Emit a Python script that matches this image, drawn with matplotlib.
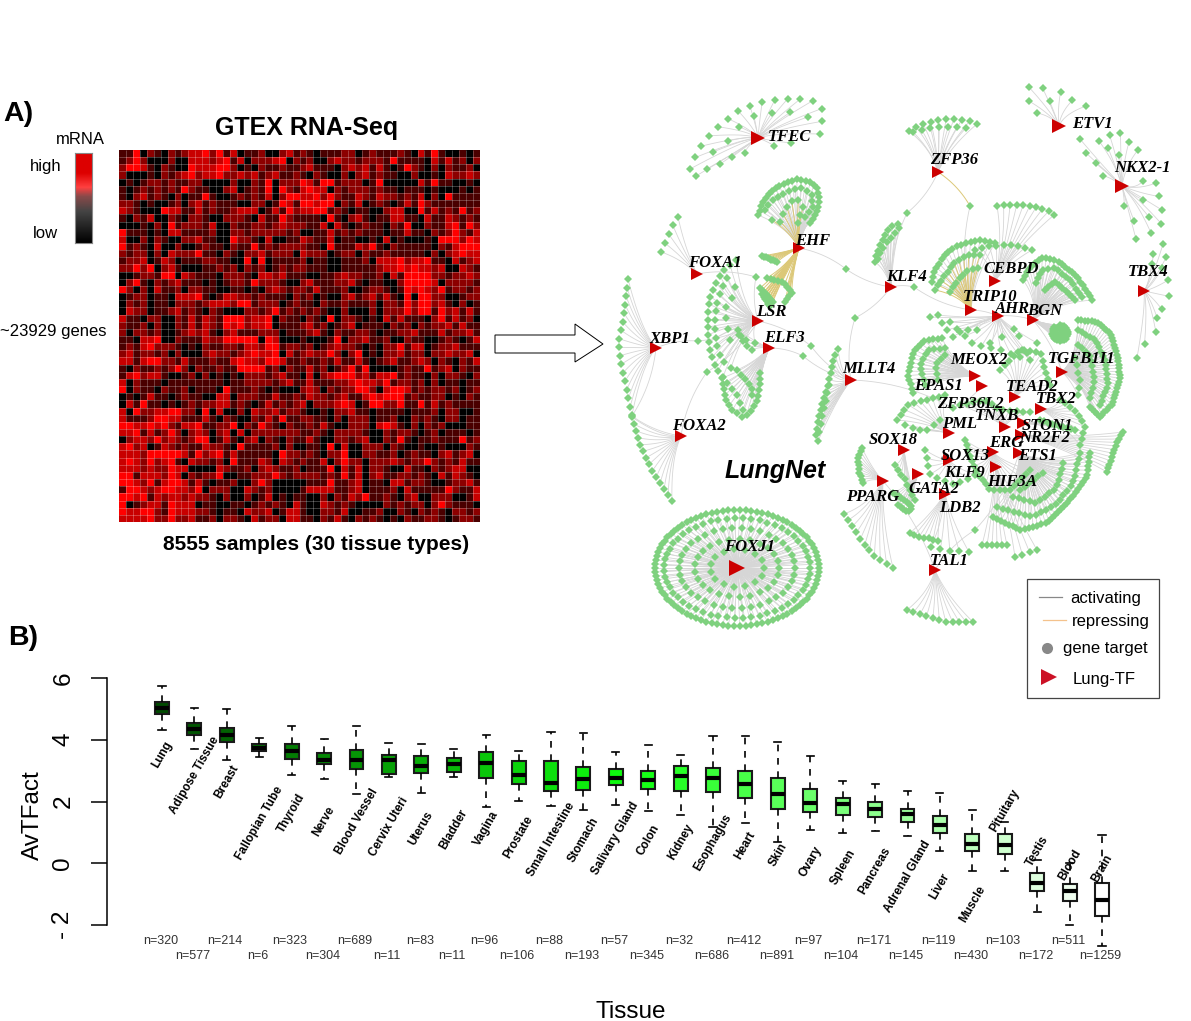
import matplotlib
matplotlib.use("Agg")
import matplotlib.pyplot as plt
import matplotlib.transforms as mtransforms
from matplotlib.collections import LineCollection
from matplotlib.colors import LinearSegmentedColormap, ListedColormap
from matplotlib.patches import Polygon, Rectangle
import numpy as np

plt.rcParams["font.family"] = ["Liberation Sans", "DejaVu Sans"]

W, H = 1191, 1021

# heatmap levels (0 black .. 4 bright red), one list per quadrant
heat_q1 = """1140210212 3342413011 200231
1242000200 3332341302 223402
2443102100 4333442010 211211
2000102123 4233422323 123112
0101221211 2200002002 140222
1012121214 2110023012 140421
1023121020 1141001212 130244
2210100120 2312111002 201431
3210004331 1312112333 013142
1021300210 2210022210 311421
0001020412 2213002112 212322
4111010331 1112002212 222212
3002021002 2311004221 030011
4121030020 0121102114 121222
2122020322 2411021022 312220
1223013201 1122110040 401111
2242402310 0011212021 201212
0012214403 2111022210 332311
0241021231 1101012214 222100
4202031120 2211001101 023212
0122011033 3410133221 211102
0212011022 2123332441 222012
0322011231 2102100022 124121
3110220021 3132144423 340211
2112020021 3132143423 340111
2022120012 3231023111 222011"""
heat_q2 = """2101112201 2111210314 100101
1200232212 2214111103 131202
2311102323 1310142102 021120
1021002023 1211002001 032232
4314412220 1400000314 110010
3433021222 1211011101 000101
3342421132 1322121302 041111
4434402130 1210131421 111111
3344121011 0023300413 121412
1110410231 0113311031 132121
2113031012 1102140021 134142
0011312121 1101131102 124213
3211301100 1030100010 444243
2110411132 4102111110 213444
3222012202 1121111102 023433
2011001112 0333423341 103123
2111001111 1233434332 300321
1001123221 1203144442 212232
2311122310 1100244443 022221
2131112001 2210143432 412212
1201002312 3131040442 200122
1102112111 2022142442 310201
2121002000 2022242441 423131
0210402210 1031311102 413120
2312012301 1102120212 231311
1231021122 1011223111 312231"""
heat_q3 = """1103340021 1132244444 043000
1213422210 1021122133 244122
2312212020 0023221234 334031
3313442213 1112113433 244311
1021121242 0211211444 412021
1342331001 2020101022 212311
3021110111 1111101122 221231
4021102112 0111041112 101000
0101311012 1100330222 113112
0314110101 2122331210 131212
3042233442 2040300203 223122
3111244331 1131021002 131411
4433434213 3411224021 421021
3341312420 2320230302 222222
0233242321 2440131023 021021
3423013212 1132210411 112020
3332444443 1423413111 110422
3432423410 3221204111 320321
3332322433 0000321120 232112
4413332430 2122400112 224212
4432413443 1310112002 420000
1443234433 2402220032 120000
4434132332 3221020020 130101
4012331433 3011001101 212103
4334421433 3221011032 230133
3333422422 3112022103 122033"""
heat_q4 = """1000140223 1120021100 121013
1201232210 1022413301 223111
2322420240 1022312202 232230
2112131131 0123112320 210213
1312012414 0000121141 230211
0302344423 1334121102 022102
1311122343 3241221202 011011
2320212244 2034431212 212012
1322123113 4344412112 201021
3022234301 4422411413 121111
1001022311 0111101112 022001
2211020222 0112002121 022011
1213100222 0343102021 200011
1121022221 0021221012 011101
1310022123 0021410112 111412
0110403002 2202100100 100021
1210224002 2112012110 231230
2113024220 2223212242 121311
0111403130 2210031102 123300
2221214130 2311221210 313210
0111411230 1103312210 012231
1333311230 1112031111 142113
1002021324 1121023002 220013
1003212100 0021212202 421110
1002213001 1200210212 102212
1102131021 2101021122 101221"""

# boxplot
tissues = ["Lung", "Adipose Tissue", "Breast", "Fallopian Tube", "Thyroid", "Nerve",
           "Blood Vessel", "Cervix Uteri", "Uterus", "Bladder", "Vagina", "Prostate",
           "Small Intestine", "Stomach", "Salivary Gland", "Colon", "Kidney", "Esophagus",
           "Heart", "Skin", "Ovary", "Spleen", "Pancreas", "Adrenal Gland", "Liver",
           "Muscle", "Pituitary", "Testis", "Blood", "Brain"]
n_samples = [320, 577, 214, 6, 323, 304, 689, 11, 83, 11, 96, 106, 88, 193, 57, 345, 32,
             686, 412, 891, 97, 104, 171, 145, 119, 430, 103, 172, 511, 1259]
whisker_hi = [5.75, 5.03, 4.99, 4.05, 4.43, 4.02, 4.43, 3.91, 3.87, 3.69, 4.17, 3.65, 4.25, 4.22,
              3.60, 3.84, 3.49, 4.11, 4.12, 3.92, 3.48, 2.66, 2.58, 2.33, 2.29, 1.74, 1.35, 0.10, 0.00, 0.91]
q3 = [5.22, 4.53, 4.39, 3.86, 3.85, 3.57, 3.67, 3.50, 3.46, 3.41, 3.60, 3.30, 3.30, 3.12,
      3.06, 3.00, 3.14, 3.07, 2.99, 2.76, 2.40, 2.12, 2.00, 1.75, 1.52, 0.94, 0.95, -0.33, -0.67, -0.63]
medians = [5.02, 4.35, 4.17, 3.74, 3.63, 3.36, 3.33, 3.33, 3.15, 3.22, 3.24, 2.85, 2.59, 2.73,
           2.75, 2.70, 2.81, 2.75, 2.56, 2.25, 1.94, 1.91, 1.76, 1.58, 1.25, 0.62, 0.59, -0.63, -0.89, -1.19]
q1 = [4.84, 4.17, 3.92, 3.63, 3.38, 3.21, 3.05, 2.89, 2.93, 2.95, 2.77, 2.57, 2.34, 2.36,
      2.52, 2.40, 2.34, 2.30, 2.11, 1.76, 1.65, 1.57, 1.51, 1.33, 0.97, 0.39, 0.30, -0.91, -1.21, -1.70]
whisker_lo = [4.30, 3.69, 3.35, 3.43, 2.86, 2.73, 2.25, 2.80, 2.26, 2.79, 1.82, 2.01, 1.86, 1.72,
              1.88, 1.68, 1.55, 1.18, 1.29, 0.69, 1.07, 0.99, 1.04, 0.88, 0.41, -0.26, -0.24, -1.59, -2.00, -2.67]
tissue_label_y = [755, 775, 782, 823, 813, 821, 822, 827, 828, 829, 828, 837, 839, 840, 838,
                  840, 842, 842, 846, 855, 862, 867, 871, 877, 886, 904, 811, 851, 865, 868]

# network layout, in picture pixels
hub_names = ["TFEC", "ETV1", "NKX2-1", "ZFP36", "TBX4", "EHF", "FOXA1", "KLF4", "CEBPD", "TRIP10",
             "AHR", "BGN", "LSR", "XBP1", "ELF3", "MLLT4", "MEOX2", "TGFB1I1", "EPAS1", "TEAD2",
             "TBX2", "TNXB", "STON1", "NR2F2", "ERG", "ETS1", "HIF3A", "PML", "SOX13", "SOX18",
             "GATA2", "PPARG", "LDB2", "TAL1", "FOXA2", "FOXJ1"]
hub_x = [758, 1059, 1122, 938, 1144, 799, 697, 891, 995, 971,
         998, 1033, 758, 656, 769, 851, 975, 1062, 982, 1015,
         1041, 1005, 1023, 1021, 993, 1019, 996, 949, 949, 904,
         918, 883, 945, 935, 681, 737]
hub_y = [138, 126, 186, 172, 291, 248, 274, 287, 281, 310,
         316, 320, 321, 348, 348, 380, 376, 372, 386, 397,
         409, 427, 423, 435, 452, 453, 467, 433, 460, 450,
         474, 481, 494, 570, 436, 568]
big_hubs = ["TFEC", "ETV1", "NKX2-1"]

net_labels = ["TFEC", "ETV1", "NKX2-1", "ZFP36", "TBX4", "EHF", "FOXA1", "KLF4", "CEBPD", "TRIP10",
              "AHR", "BGN", "LSR", "XBP1", "ELF3", "MLLT4", "MEOX2", "TGFB1I1", "EPAS1", "TEAD2",
              "TBX2", "ZFP36L2", "TNXB", "STON1", "NR2F2", "ERG", "ETS1", "HIF3A", "PML", "SOX13",
              "KLF9", "SOX18", "GATA2", "PPARG", "LDB2", "TAL1", "FOXA2", "FOXJ1", ]
label_x = [790, 1092, 1142, 954, 1148, 813, 715, 906, 1011, 990,
           1012, 1045, 771, 670, 785, 869, 979, 1082, 938, 1032,
           1056, 970, 997, 1047, 1045, 1006, 1038, 1012, 960, 965,
           964, 893, 934, 873, 960, 949, 699, 750]
label_y = [136, 123, 167, 159, 271, 240, 262, 276, 268, 296,
           308, 310, 311, 338, 337, 368, 359, 358, 385, 386,
           398, 403, 415, 425, 437, 442, 455, 481, 423, 455,
           472, 439, 488, 496, 507, 560, 425, 546]

# targets of each hub lie along these traced lines
fan_hubs = ["TFEC", "TFEC", "TFEC", "TFEC",
            "ETV1", "NKX2-1", "NKX2-1", "NKX2-1", "NKX2-1", "NKX2-1", "NKX2-1",
            "TBX4", "ZFP36", "ZFP36",
            "KLF4", "KLF4",
            "CEBPD", "CEBPD",
            "TRIP10", "TRIP10", "TRIP10",
            "BGN", "BGN", "BGN", "BGN",
            "TGFB1I1", "TGFB1I1", "TGFB1I1", "TGFB1I1",
            "MEOX2", "MEOX2", "MEOX2",
            "AHR", "AHR", "AHR",
            "NR2F2", "ETS1", "ETS1", "ETS1", "ETS1",
            "HIF3A", "HIF3A",
            "FOXA1", "XBP1", "FOXA2",
            "EHF", "EHF", "EHF", "EHF", "EHF", "EHF",
            "LSR", "LSR", "LSR",
            "ELF3", "ELF3", "ELF3", "ELF3",
            "MLLT4", "MLLT4",
            "PPARG", "PPARG", "GATA2",
            "LDB2", "LDB2", "TAL1",
            "PML", "PML", "SOX18", "TEAD2", "TBX2", "ERG", "TNXB", "STON1", "SOX13"]
fan_counts = [16, 5, 7, 2,
              8, 4, 5, 2, 6, 2, 3,
              12, 10, 7,
              9, 7,
              10, 9,
              18, 12, 8,
              24, 14, 10, 30,
              42, 20, 12, 6,
              18, 11, 6,
              8, 7, 10,
              12, 34, 22, 14, 6,
              6, 4,
              5, 17, 14,
              26, 14, 9, 9, 12, 18,
              18, 12, 9,
              18, 5, 6, 5,
              16, 7,
              11, 11, 14,
              7, 5, 11,
              10, 6, 8, 14, 10, 20, 12, 10, 10]
fan_repress = [0, 0, 0, 0,
               0, 0, 0, 0, 0, 0, 0,
               0, 0, 0,
               0, 0,
               0, 0,
               0, 1, 1,
               0, 0, 0, 0,
               0, 0, 0, 0,
               0, 0, 0,
               0, 0, 0,
               0, 0, 0, 0, 0,
               0, 0,
               0, 0, 0,
               0, 0, 1, 1, 1, 1,
               0, 0, 0,
               0, 0, 0, 0,
               0, 0,
               0, 0, 0,
               0, 0, 0,
               0, 0, 0, 0, 0, 0, 0, 0, 0]
fan_paths = [
    [(690, 169), (699, 150), (706, 139), (722, 123), (743, 108), (757, 103), (781, 99), (807, 99), (818, 102), (822, 109), (822, 122), (820, 134)],
    [(696, 176), (706, 169), (717, 166), (730, 158), (745, 153)],
    [(713, 152), (727, 142), (737, 129), (753, 116), (771, 113), (789, 112), (808, 117)],
    [(791, 143), (774, 146)],
    [(1037, 113), (1028, 100), (1028, 87), (1042, 87), (1050, 102), (1061, 92), (1073, 101), (1086, 106)],
    [(1080, 139), (1085, 152), (1095, 162), (1103, 176)],
    [(1099, 141), (1110, 135), (1119, 132), (1129, 142), (1138, 150)],
    [(1108, 148), (1119, 155)],
    [(1143, 181), (1156, 182), (1159, 196), (1162, 208), (1162, 223), (1151, 233)],
    [(1143, 200), (1149, 217)],
    [(1124, 206), (1134, 220), (1136, 239)],
    [(1163, 244), (1152, 254), (1168, 256), (1149, 265), (1168, 270), (1169, 295), (1166, 308), (1153, 312), (1160, 322), (1155, 335), (1143, 345), (1137, 358)],
    [(909, 131), (917, 126), (925, 123), (933, 121), (948, 119), (957, 119), (964, 120), (973, 122), (977, 124)],
    [(913, 132), (930, 128), (939, 127), (948, 127), (957, 127), (966, 128)],
    [(875, 262), (877, 252), (881, 243), (886, 233), (891, 226), (898, 224)],
    [(878, 259), (882, 249), (888, 241), (893, 235), (899, 228)],
    [(997, 206), (1010, 205), (1022, 205), (1035, 207), (1048, 211), (1054, 215)],
    [(975, 250), (990, 246), (1005, 245), (1020, 246), (1032, 250)],
    [(932, 282), (935, 270), (943, 257), (953, 248), (967, 242), (983, 240), (995, 243)],
    [(935, 290), (945, 275), (955, 262), (968, 255), (980, 255)],
    [(950, 292), (958, 280), (968, 270), (978, 268)],
    [(1023, 280), (1030, 267), (1043, 257), (1060, 262), (1077, 277), (1088, 293), (1092, 300)],
    [(1036, 283), (1042, 270), (1055, 268), (1070, 280), (1082, 297)],
    [(1045, 290), (1055, 282), (1065, 290), (1075, 300)],
    [(1060, 325), (1066, 327), (1068, 333), (1066, 339), (1060, 341), (1054, 339), (1052, 333), (1054, 327), (1060, 329), (1064, 333), (1060, 337), (1056, 333)],
    [(1078, 320), (1097, 322), (1110, 333), (1118, 357), (1120, 380), (1113, 403), (1100, 417), (1090, 407)],
    [(1078, 330), (1095, 340), (1105, 360), (1108, 385), (1100, 405)],
    [(1078, 345), (1090, 355), (1095, 380), (1090, 398)],
    [(1075, 358), (1080, 380), (1078, 395)],
    [(913, 393), (908, 375), (913, 352), (925, 340), (942, 338)],
    [(925, 385), (920, 365), (928, 350), (945, 348)],
    [(938, 380), (935, 365), (945, 355)],
    [(930, 317), (937, 314), (947, 330), (953, 337), (963, 330), (977, 330)],
    [(990, 343), (1003, 337), (1017, 327), (1023, 357), (1037, 343)],
    [(950, 322), (975, 345), (1000, 350), (1030, 360)],
    [(1123, 432), (1115, 447), (1107, 472)],
    [(1090, 453), (1087, 477), (1070, 500), (1047, 523), (1020, 530), (993, 517)],
    [(1080, 453), (1073, 483), (1057, 503), (1033, 517), (997, 507)],
    [(1063, 463), (1057, 487), (1037, 503), (1013, 497)],
    [(1043, 473), (1030, 483), (1020, 490)],
    [(982, 545), (1007, 545)],
    [(1015, 557), (1037, 550)],
    [(678, 217), (673, 225), (669, 233), (665, 242), (661, 252)],
    [(628, 279), (624, 314), (619, 340), (619, 350), (622, 368), (627, 391), (632, 415)],
    [(632, 417), (641, 448), (652, 470), (672, 501)],
    [(758, 215), (762, 204), (768, 195), (777, 187), (787, 182), (798, 179), (810, 182), (818, 189), (819, 202), (817, 213), (810, 223)],
    [(765, 210), (770, 202), (780, 195), (792, 190), (803, 188), (812, 195), (813, 207), (805, 217)],
    [(772, 220), (780, 222), (788, 203), (797, 198), (803, 207), (798, 223)],
    [(762, 256), (777, 262)],
    [(767, 278), (783, 282), (792, 292), (785, 302)],
    [(760, 288), (773, 302), (762, 294), (770, 306)],
    [(736, 260), (722, 272), (715, 285), (710, 298), (708, 313), (708, 330), (709, 345), (712, 357), (716, 369), (723, 377)],
    [(727, 278), (720, 292), (716, 308), (715, 330), (717, 347), (722, 360), (731, 368)],
    [(735, 287), (732, 297), (725, 308), (727, 323), (730, 340), (742, 333), (747, 343), (755, 343)],
    [(722, 378), (725, 398), (732, 410), (742, 417), (750, 413), (758, 400), (760, 383), (760, 373)],
    [(727, 383), (737, 395), (743, 410)],
    [(737, 370), (743, 377), (752, 387), (752, 395)],
    [(738, 330), (745, 345), (752, 350)],
    [(838, 349), (834, 358), (831, 372), (827, 388), (823, 400), (821, 408), (818, 420), (816, 433), (818, 441)],
    [(829, 385), (825, 403), (822, 418), (819, 432)],
    [(844, 514), (853, 527), (862, 541), (873, 555), (883, 562), (893, 568)],
    [(862, 448), (858, 458), (859, 472), (863, 483)],
    [(893, 493), (905, 500), (912, 507), (908, 512), (898, 505)],
    [(910, 533), (917, 537), (927, 538), (938, 541)],
    [(931, 547), (943, 550), (969, 552)],
    [(907, 610), (925, 616), (946, 622), (962, 622), (973, 622)],
    [(897, 420), (908, 405), (925, 400), (945, 395)],
    [(905, 425), (925, 432), (940, 420)],
    [(895, 465), (905, 480), (915, 500)],
    [(1000, 370), (1020, 350), (1040, 352), (1050, 385)],
    [(1060, 400), (1075, 410), (1085, 425), (1080, 445)],
    [(965, 440), (975, 470), (990, 490), (1010, 490), (1030, 470)],
    [(960, 405), (985, 400), (1000, 410), (1030, 412)],
    [(1040, 420), (1055, 425), (1075, 430)],
    [(925, 450), (930, 475), (955, 485), (975, 475)],
]

# targets shared by two hubs: node position, then the two hubs
shared_x = [907, 970, 846, 855, 811, 803, 756, 698, 707, 914, 632, 953, 975]
shared_y = [213, 206, 269, 318, 346, 356, 277, 341, 372, 287, 416, 408, 530]
shared_a = ["ZFP36", "ZFP36", "EHF", "KLF4", "LSR", "ELF3", "FOXA1", "XBP1", "FOXA2", "KLF4", "XBP1", "MLLT4", "TAL1"]
shared_b = ["KLF4", "TRIP10", "KLF4", "MLLT4", "MLLT4", "MLLT4", "LSR", "LSR", "LSR", "TRIP10", "FOXA2", "EPAS1", "ETS1"]
shared_repress = [0, 1, 0, 0, 0, 0, 0, 0, 0, 0, 0, 0, 0]
hub_links_a = ["TRIP10", "AHR", "BGN", "PPARG"]
hub_links_b = ["AHR", "BGN", "TGFB1I1", "TAL1"]

# FOXJ1 targets sit on concentric ellipses: half width, half height, node count
ring_a = [82, 73, 58, 42, 27]
ring_b = [58, 50, 40, 29, 19]
ring_n = [90, 55, 38, 25, 15]

EDGE_GREY = "#d6d6d6"
EDGE_YELLOW = "#dcc878"
NODE_GREEN = "#7fd17f"
HUB_RED = "#cc0000"


def px_axes(fig, left, top, right, bottom):
    return fig.add_axes([left / W, 1 - bottom / H, (right - left) / W, (bottom - top) / H])


def parse_rows(text):
    return [[int(c) for c in row.replace(" ", "")] for row in text.splitlines()]


def along_path(path, count):
    pts = np.array(path, dtype=float)
    seg = np.sqrt((np.diff(pts, axis=0) ** 2).sum(axis=1))
    dist = np.concatenate([[0], np.cumsum(seg)])
    where = np.linspace(0, dist[-1], count)
    return np.interp(where, dist, pts[:, 0]), np.interp(where, dist, pts[:, 1])


def curve(p0, ctrl, p1):
    t = np.linspace(0, 1, 14)[:, None]
    return (1 - t) ** 2 * np.array(p0) + 2 * t * (1 - t) * np.array(ctrl) + t ** 2 * np.array(p1)


def draw_heatmap(fig):
    ax = px_axes(fig, 119, 150, 480, 522)
    top = np.hstack([parse_rows(heat_q1), parse_rows(heat_q2)])
    bottom = np.hstack([parse_rows(heat_q3), parse_rows(heat_q4)])
    levels = np.vstack([top, bottom])
    cmap = ListedColormap(["#000000", "#4a0000", "#8c0000", "#c80000", "#ff0000"])
    ax.pcolormesh(levels, cmap=cmap, vmin=-0.5, vmax=4.5, antialiased=False)
    rows, cols = levels.shape
    # faint cell borders
    ax.hlines(np.arange(1, rows), 0, cols, colors="white", alpha=0.25, lw=0.7)
    ax.vlines(np.arange(1, cols), 0, rows, colors="white", alpha=0.25, lw=0.7)
    ax.set_xlim(0, cols)
    ax.set_ylim(rows, 0)
    ax.axis("off")

    # colour key
    key = px_axes(fig, 75, 153, 92, 243)
    ramp = LinearSegmentedColormap.from_list(
        "key", [(0, "#000000"), (0.35, "#444444"), (0.52, "#8a4a4a"), (0.62, "#ff4040"),
                (0.78, "#dd0000"), (1, "#dd0000")])
    key.imshow(np.linspace(1, 0, 200)[:, None], cmap=ramp, aspect="auto")
    key.set_xticks([])
    key.set_yticks([])
    for spine in key.spines.values():
        spine.set_color("#888888")


def draw_network(ov):
    hubs = {name: (x, y) for name, x, y in zip(hub_names, hub_x, hub_y)}
    grey_segs, yellow_segs = [], []
    xs, ys = [], []

    for name, count, repress, path in zip(fan_hubs, fan_counts, fan_repress, fan_paths):
        hub = np.array(hubs[name], dtype=float)
        lx, ly = along_path(path, count)
        centre = np.array([lx.mean(), ly.mean()])
        for x, y in zip(lx, ly):
            leaf = np.array([x, y])
            # pull the edge toward the middle of the fan so it bundles near the hub
            ctrl = 0.5 * (hub + 0.5 * (centre - hub)) + 0.5 * (hub + leaf) / 2
            (yellow_segs if repress else grey_segs).append(curve(hub, ctrl, leaf))
        xs.extend(lx)
        ys.extend(ly)

    hub = np.array(hubs["FOXJ1"], dtype=float)
    for a, b, count in zip(ring_a, ring_b, ring_n):
        angle = np.linspace(0, 2 * np.pi, count, endpoint=False)
        lx = hub[0] + a * np.cos(angle)
        ly = hub[1] + b * np.sin(angle)
        for x, y in zip(lx, ly):
            grey_segs.append(np.array([hub, (x, y)]))
        xs.extend(lx)
        ys.extend(ly)

    for x, y, a, b, repress in zip(shared_x, shared_y, shared_a, shared_b, shared_repress):
        for k, other in enumerate((a, b)):
            start = np.array(hubs[other], dtype=float)
            end = np.array([x, y], dtype=float)
            normal = np.array([end[1] - start[1], start[0] - end[0]])
            ctrl = (start + end) / 2 + 0.12 * normal
            target = yellow_segs if repress and k == 0 else grey_segs
            target.append(curve(start, ctrl, end))
        xs.append(x)
        ys.append(y)

    for a, b in zip(hub_links_a, hub_links_b):
        start = np.array(hubs[a], dtype=float)
        end = np.array(hubs[b], dtype=float)
        normal = np.array([end[1] - start[1], start[0] - end[0]])
        grey_segs.append(curve(start, (start + end) / 2 + 0.1 * normal, end))

    ov.add_collection(LineCollection(grey_segs, colors=EDGE_GREY, linewidths=0.6, zorder=2))
    ov.add_collection(LineCollection(yellow_segs, colors=EDGE_YELLOW, linewidths=0.7, zorder=3))
    ov.plot(xs, ys, ls="none", marker="D", ms=4, color=NODE_GREEN, mew=0, zorder=4)

    for name in hub_names:
        size = 8
        if name in big_hubs:
            size = 10
        if name == "FOXJ1":
            size = 12
        ov.plot(*hubs[name], ls="none", marker=">", ms=size, color=HUB_RED, mew=0, zorder=5)

    for name, x, y in zip(net_labels, label_x, label_y):
        ov.text(x, y + 1, name, family="Liberation Serif", style="italic", weight="bold",
                fontsize=12, ha="center", va="center", zorder=6)
    ov.text(775, 471, "LungNet", style="italic", weight="bold", fontsize=18,
            ha="center", va="center", zorder=6)


def draw_legend(ov):
    ov.add_patch(Rectangle((1027, 579), 132, 119, fc="white", ec="#444444", lw=0.9, zorder=7))
    ov.plot([1039, 1062], [597, 597], color="#888888", lw=0.9, zorder=8)
    ov.plot([1043, 1066], [620, 620], color="#f4c28c", lw=0.9, zorder=8)
    ov.plot(1047, 648, ls="none", marker="o", ms=8, color="#888888", mew=0, zorder=8)
    ov.plot(1049, 677, ls="none", marker=">", ms=11, color="#cc1126", mew=0, zorder=8)
    names = ["activating", "repressing", "gene target", "Lung-TF"]
    text_x = [1070, 1072, 1063, 1073]
    text_y = [598, 621, 648, 679]
    for name, x, y in zip(names, text_x, text_y):
        ov.text(x, y, name, fontsize=12, ha="left", va="center", zorder=8)


def draw_boxes(fig, ov):
    box_ax = px_axes(fig, 107, 678, W, 925)
    stats = []
    for i, name in enumerate(tissues):
        stats.append({"label": name, "whishi": whisker_hi[i], "q3": q3[i], "med": medians[i],
                      "q1": q1[i], "whislo": whisker_lo[i], "fliers": []})
    pos = np.arange(1, len(tissues) + 1)
    art = box_ax.bxp(stats, positions=pos, widths=0.43, capwidths=0.22, patch_artist=True,
                     shownotches=False, showfliers=False, manage_ticks=False,
                     boxprops=dict(edgecolor="#1a1a1a", linewidth=1.5),
                     medianprops=dict(color="black", linewidth=3, solid_capstyle="butt"),
                     whiskerprops=dict(color="black", linewidth=1.2, linestyle=(0, (4, 4))),
                     capprops=dict(color="black", linewidth=1.2))
    ramp = LinearSegmentedColormap.from_list(
        "greens", [(0, "#004a00"), (0.5, "#0fff0f"), (1, "#ffffff")])
    for i, patch in enumerate(art["boxes"]):
        patch.set_facecolor(ramp(i / (len(tissues) - 1)))
    for group in art.values():
        for item in group:
            item.set_clip_on(False)

    box_ax.set_xlim(1 - 55 / 32.41, 30 + 89 / 32.41)
    box_ax.set_ylim(-2, 6)
    box_ax.patch.set_alpha(0)
    for side in ("top", "right", "bottom"):
        box_ax.spines[side].set_visible(False)
    box_ax.spines["left"].set_bounds(-2, 6)
    box_ax.spines["left"].set_linewidth(1.1)
    box_ax.set_xticks([])
    box_ax.set_yticks([-2, 0, 2, 4, 6])
    box_ax.set_yticklabels(["- 2", "0", "2", "4", "6"], rotation=90, va="center", fontsize=17.5)
    box_ax.tick_params(axis="y", length=11.5, width=1.1, pad=12)

    # x from the box axis, y in picture pixels
    trans = mtransforms.blended_transform_factory(box_ax.transData, ov.transData)
    for i, name in enumerate(tissues):
        ov.text(pos[i], tissue_label_y[i], name, transform=trans, rotation=60, weight="bold",
                fontsize=8.5, ha="center", va="center", zorder=9)
        row_y = 941 if i % 2 == 0 else 956
        ov.text(pos[i] - 0.05, row_y, "n=%d" % n_samples[i], transform=trans, fontsize=9,
                color="#333333", ha="center", va="center", zorder=9)


def main():
    fig = plt.figure(figsize=(W / 100, H / 100), dpi=100)
    draw_heatmap(fig)

    ov = fig.add_axes([0, 0, 1, 1], zorder=5)
    ov.set_xlim(0, W)
    ov.set_ylim(H, 0)
    ov.axis("off")

    draw_network(ov)
    draw_legend(ov)
    draw_boxes(fig, ov)

    # arrow between the heatmap and the network
    ov.add_patch(Polygon([(495, 335), (575, 335), (575, 324), (603, 344), (575, 362), (575, 353), (495, 353)],
                         closed=True, fc="white", ec="black", lw=0.7))

    ov.text(3, 114, "A)", weight="bold", fontsize=20.5, ha="left", va="center")
    ov.text(8, 638, "B)", weight="bold", fontsize=20.5, ha="left", va="center")
    ov.text(307, 128, "GTEX RNA-Seq", weight="bold", fontsize=18, ha="center", va="center")
    ov.text(316, 544, "8555 samples (30 tissue types)", weight="bold", fontsize=15, ha="center", va="center")
    ov.text(80, 139, "mRNA", fontsize=12, ha="center", va="center")
    ov.text(46, 167, "high", fontsize=12, ha="center", va="center")
    ov.text(45, 233, "low", fontsize=12, ha="center", va="center")
    ov.text(0, 331, "~23929 genes", fontsize=12, ha="left", va="center")
    ov.text(33, 815, "AvTFact", fontsize=17.5, rotation=90, ha="center", va="center")
    ov.text(631, 1012, "Tissue", fontsize=17.5, ha="center", va="center")

    fig.savefig("out.png", dpi=100)


if __name__ == "__main__":
    main()
